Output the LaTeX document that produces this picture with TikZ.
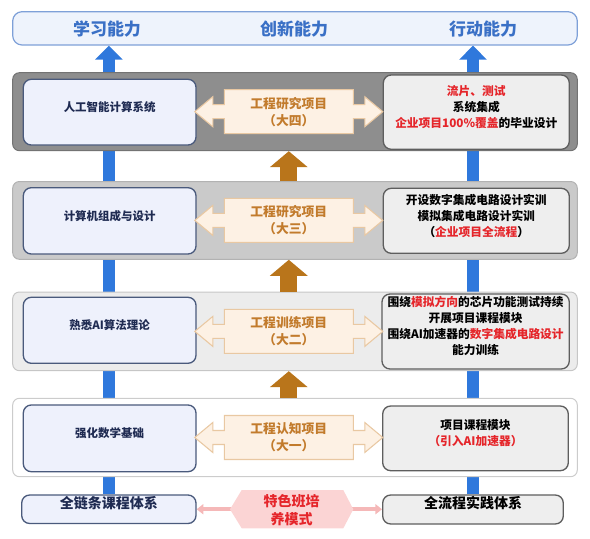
\documentclass[tikz,border=0pt]{standalone}
\usepackage{fontspec}
\setmainfont{Noto Sans CJK SC}
\usetikzlibrary{arrows.meta,fit,backgrounds}

\definecolor{topfill}{HTML}{EEF3FC}
\definecolor{topdraw}{HTML}{7EA0D8}
\definecolor{toptext}{HTML}{3A70C6}
\definecolor{barblue}{HTML}{2F78DC}
\definecolor{layfour}{HTML}{8E8E8E}
\definecolor{laythree}{HTML}{CACACA}
\definecolor{laytwo}{HTML}{ECECEC}
\definecolor{leftfill}{HTML}{EEF1FC}
\definecolor{leftdraw}{HTML}{4A5A7C}
\definecolor{navy}{HTML}{1F2B52}
\definecolor{rightfill}{HTML}{EEEEEE}
\definecolor{rightdraw}{HTML}{5E5E5E}
\definecolor{projfill}{HTML}{FDF1E4}
\definecolor{projdraw}{HTML}{E9C8A2}
\definecolor{projtext}{HTML}{C27B2C}
\definecolor{uporange}{HTML}{B9751B}
\definecolor{hexpink}{HTML}{FBD4D4}
\definecolor{linkpink}{HTML}{F5B8B8}
\definecolor{hired}{HTML}{E5252A}

\newcommand{\redtxt}[1]{\textcolor{hired}{#1}}

\tikzset{
  topbar/.style={draw=topdraw, fill=topfill, rounded corners=7pt, line width=0.9pt, inner sep=0pt},
  abilitytext/.style={text=toptext, font=\fontsize{12.75}{15}\selectfont\bfseries, inner sep=0.75pt},
  layerbox/.style={rounded corners=5pt, line width=0.75pt, inner sep=0pt},
  leftbox/.style={draw=leftdraw, fill=leftfill, rounded corners=6pt, line width=1pt, inner sep=0pt,
    text=navy, font=\fontsize{8.6}{11}\selectfont\bfseries},
  rightbox/.style={draw=rightdraw, fill=rightfill, rounded corners=6pt, line width=1pt, inner sep=0pt,
    align=center, font=\fontsize{8.8}{12}\selectfont\bfseries},
  basebox/.style={line width=1pt, rounded corners=6pt, inner sep=0pt, font=\fontsize{10.5}{13}\selectfont\bfseries},
  projtxt/.style={text=projtext, align=center, font=\fontsize{9.6}{12.75}\selectfont\bfseries, inner sep=0.75pt},
  uparrow/.style={draw=uporange, line width=12.75pt, -{Triangle[width=27.75pt,length=12pt]}},
  bluebar/.style={draw=barblue, line width=8.6pt, -{Triangle[width=20pt,length=10.5pt]}},
  linkarrow/.style={draw=linkpink, line width=3pt, {Triangle[width=7.5pt,length=5pt]}-{Triangle[width=7.5pt,length=5pt]}},
  projarrow/.pic={
    \draw[draw=projdraw, fill=projfill, line width=0.8pt] (-94,0) -- (-76,-15) -- (-76,-7) -- (-64.5,-7) -- (-64.5,-22)
      -- (64.5,-22) -- (64.5,-7) -- (76,-7) -- (76,-15) -- (94,0) -- (76,15) -- (76,7) -- (64.5,7)
      -- (64.5,22) -- (-64.5,22) -- (-64.5,7) -- (-76,7) -- (-76,15) -- cycle ;
  }
}

\begin{document}
\begin{tikzpicture}[x=0.75pt,y=0.75pt,yscale=-1,xscale=1]
\useasboundingbox (0,0) rectangle (590,539);
%Shape: Rectangle
\node[topbar, fit={(12.7,11.7) (577.3,45)}] (top) {};
% Text Node
\node[abilitytext] (learn) at (107,29) {学习能力};
% Text Node
\node[abilitytext] (innov) at (294,29) {创新能力};
% Text Node
\node[abilitytext] (act) at (483,29) {行动能力};

%Shape: Rectangle
\node[layerbox, draw=gray!90!black, fill=layfour, fit={(12.7,72.7) (577.3,150.7)}] (L4) {};
\node[layerbox, draw=gray!60, fill=laythree, fit={(12.7,181.5) (577.3,259.3)}] (L3) {};
\node[layerbox, draw=gray!45, fill=laytwo, fit={(12.7,292) (577.3,370.7)}] (L2) {};
\node[layerbox, draw=gray!40, fill=white, fit={(12.7,398.3) (577.3,476.7)}] (L1) {};

%Shape: Rectangle
\node[leftbox, fit={(23.3,79.3) (196,145)}] (ai) {人工智能计算系统};
\node[leftbox, fit={(23.3,187.7) (196,254)}] (comp) {计算机组成与设计};
\node[leftbox, fit={(23.3,297.3) (196,363.3)}] (algo) {熟悉AI算法理论};
\node[leftbox, fit={(23.3,405) (196,471.7)}] (math) {强化数学基础};

%Shape: Rectangle
\node[rightbox, fit={(383.3,75) (569.3,149.3)}] (grad) {\redtxt{流片、测试}\\系统集成\\\redtxt{企业项目100\%覆盖}的毕业设计};
\node[rightbox, fit={(383.3,188.3) (569.3,253.3)}] (train) {开设数字集成电路设计实训\\模拟集成电路设计实训\\（\redtxt{企业项目全流程}）};
\node[rightbox, fit={(382,294) (569.3,369)}] (chip) {围绕\redtxt{模拟方向}的芯片功能测试持续\\开展项目课程模块\\围绕AI加速器的\redtxt{数字集成电路设计}\\能力训练};
\node[rightbox, fit={(382.7,406) (568.3,470.7)}] (module) {项目课程模块\\\redtxt{（引入AI加速器）}};

%Double Arrows
\pic at (288.8,111.7) {projarrow};
\pic at (288.8,220.4) {projarrow};
\pic at (288.8,331.4) {projarrow};
\pic at (288.8,437.5) {projarrow};
% Text Node
\node[projtxt] (proj4) at (288.8,111.7) {工程研究项目\\（大四）};
\node[projtxt] (proj3) at (288.8,220.4) {工程研究项目\\（大三）};
\node[projtxt] (proj2) at (288.8,331.4) {工程训练项目\\（大二）};
\node[projtxt] (proj1) at (288.8,437.5) {工程认知项目\\（大一）};

%Up Arrows
\draw[uparrow] (proj3.center |- L3.north) -- (proj3.center |- L4.south) ;
\draw[uparrow] (proj2.center |- L2.north) -- (proj2.center |- L3.south) ;
\draw[uparrow] (proj1.center |- L1.north) -- (proj1.center |- L2.south) ;

%Shape: Rectangle
\node[basebox, draw=leftdraw, fill=leftfill, text=navy, fit={(21.7,495) (196,523.5)}] (chain) {全链条课程体系};
\node[basebox, draw=rightdraw, fill=rightfill, fit={(382.7,495) (563.3,524)}] (flow) {全流程实践体系};

%Shape: Polygon
\fill[hexpink] (230,509.3) -- (241.7,490) -- (343.3,490) -- (353.3,509.3) -- (343.3,528.3) -- (241.7,528.3) -- cycle ;
% Text Node
\node[text=hired, align=center, font=\fontsize{10.5}{13.7}\selectfont\bfseries, inner sep=0.75pt] (mode) at (291.7,510.5) {特色班培\\养模式};

\begin{scope}[on background layer]
%Straight Lines
\draw[bluebar] (chain.north) -- (chain.north |- top.south) ;
\draw[bluebar] (flow.north) -- (flow.north |- top.south) ;
\draw[linkarrow] (chain.east) -- (chain.east -| flow.west) ;
\end{scope}
\end{tikzpicture}
\end{document}
